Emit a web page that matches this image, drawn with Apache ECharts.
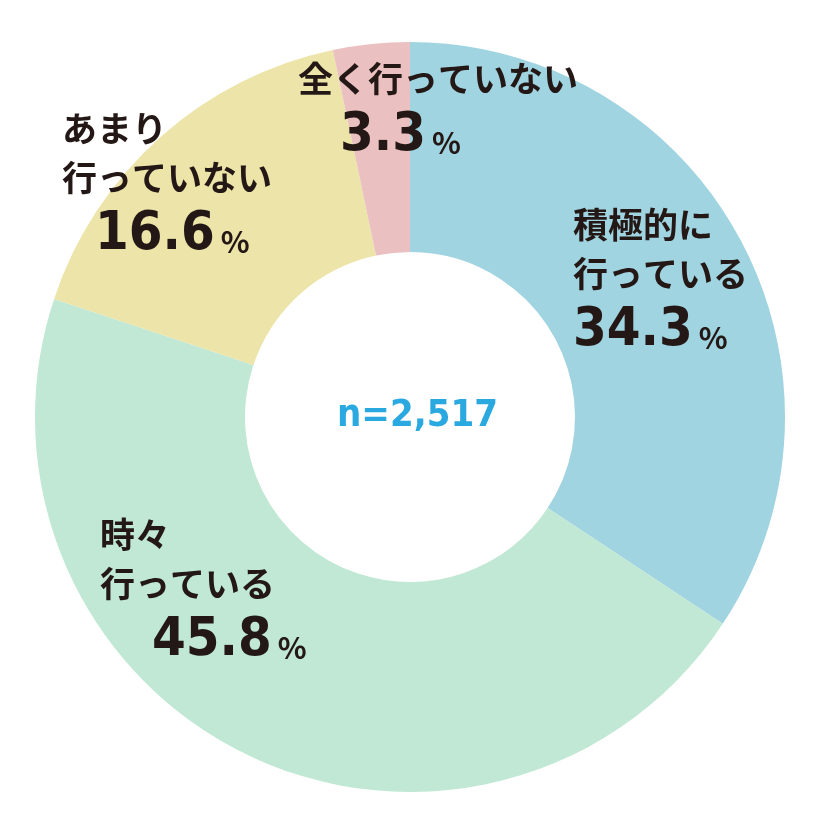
<!DOCTYPE html>
<html><head><meta charset="utf-8">
<script src="https://cdn.jsdelivr.net/npm/echarts@6/dist/echarts.min.js"></script>
<style>html,body{margin:0;background:#fff}#c{width:835px;height:834px}</style>
</head><body><div id="c"></div>
<script>
const categories = ['積極的に行っている','時々行っている','あまり行っていない','全く行っていない'];
const values = [34.3, 45.8, 16.6, 3.3];
const colors = ['#a0d4e0','#c0e8d4','#ece4a8','#ebc0c0'];
const labelLines = [['積極的に','行っている'],['時々','行っている'],['あまり','行っていない'],['全く行っていない']];
const centerText = 'n=2,517';
const labelPos = [[573,200],[100,510],[62,104],[298,54]];
const pctOffset = [[0,0],[52,0],[33,0],[42,0]];

const F = '"Noto Sans CJK JP", sans-serif';
const graphics = [];
categories.forEach((c,i)=>{
  const [x,y] = labelPos[i];
  const lines = labelLines[i];
  graphics.push({type:'text', z:100, left:x, top:y, style:{text:lines.join('\n'), font:'bold 35px '+F, fill:'#231815', lineHeight:49}});
  const py = y + lines.length*49 + 6;
  graphics.push({type:'text', z:100, left:x+pctOffset[i][0], top:py, style:{
    text:'{n|'+values[i].toFixed(1)+'}{p|%}',
    rich:{n:{fontSize:54,fontWeight:'bold',fontFamily:'"DejaVu Sans Condensed", sans-serif',fill:'#231815'},
          p:{fontSize:30,fontWeight:'bold',fontFamily:F,fill:'#231815',padding:[14,0,0,6]}}}});
});
graphics.push({type:'text', z:100, left:'center', top:397, style:{text:centerText, font:'bold 38px "DejaVu Sans Condensed", sans-serif', fill:'#2aa8e0'}});

const chart = echarts.init(document.getElementById('c'));
chart.setOption({
  animation:false,
  series:[{type:'pie', z:1, center:[410,417], radius:[165,375], startAngle:90, clockwise:true,
    label:{show:false}, labelLine:{show:false}, silent:true,
    data:categories.map((c,i)=>({name:c, value:values[i], itemStyle:{color:colors[i]}}))}],
  graphic:{elements:graphics}
});
</script></body></html>
